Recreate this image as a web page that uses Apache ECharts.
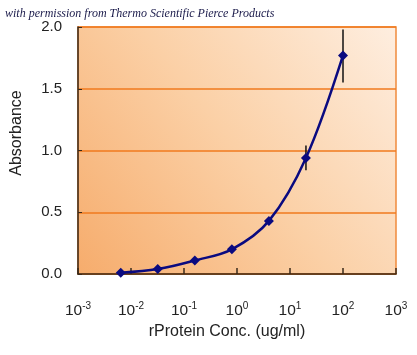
<!DOCTYPE html>
<html><head><meta charset="utf-8">
<script src="https://cdn.jsdelivr.net/npm/echarts@6/dist/echarts.min.js"></script>
<style>html,body{margin:0;padding:0;background:#fff}#c{width:417px;height:355px}</style>
</head><body><div id="c"></div>
<script>
const concentrations = [0.0064, 0.032, 0.16, 0.8, 4, 20, 100];
const absorbance = [0.01, 0.04, 0.11, 0.2, 0.43, 0.94, 1.77];
const errLow = [null, null, null, null, null, 0.84, 1.55];
const errHigh = [null, null, null, null, null, 1.04, 1.98];
const xExponents = [-3, -2, -1, 0, 1, 2, 3];
const yTicks = [0, 0.5, 1.0, 1.5, 2.0];
const titleText = 'with permission from Thermo Scientific Pierce Products';
const xName = 'rProtein Conc. (ug/ml)';
const yName = 'Absorbance';

const points = concentrations.map((c, i) => [c, absorbance[i]]);
const errData = [];
concentrations.forEach((c, i) => { if (errLow[i] != null) errData.push([c, errLow[i], errHigh[i]]); });

const chart = echarts.init(document.getElementById('c'));
chart.setOption({
  animation: false,
  grid: {
    left: 78, right: 21, top: 27, bottom: 81,
    show: true,
    borderColor: '#f08a3c', borderWidth: 1.5,
    backgroundColor: new echarts.graphic.LinearGradient(0, 1, 1, 0, [
      {offset: 0, color: '#f6ac6c'},
      {offset: 0.5, color: '#fbd0a6'},
      {offset: 1, color: '#feeee0'}
    ])
  },
  graphic: [
    {type: 'text', left: 5, top: 8, style: {text: titleText, font: 'italic 12px "Liberation Serif"', fill: '#1a1a4a'}},
    {type: 'text', x: 17, y: 133, rotation: Math.PI / 2, style: {text: yName, font: '16px "Liberation Sans"', fill: '#222', align: 'center', verticalAlign: 'middle'}},
    {type: 'text', x: 227, y: 332, style: {text: xName, font: '16px "Liberation Sans"', fill: '#222', align: 'center', verticalAlign: 'middle'}}
  ],
  xAxis: {
    type: 'log', logBase: 10, min: Math.pow(10, xExponents[0]), max: Math.pow(10, xExponents[xExponents.length - 1]),
    axisLine: {lineStyle: {color: '#3a2a1a', width: 1.5}},
    axisTick: {show: true, inside: true, length: 6, lineStyle: {color: '#3a2a1a', width: 1.5}},
    splitLine: {show: false},
    minorTick: {show: false},
    axisLabel: {
      margin: 27,
      formatter: v => '{b|10}{s|' + Math.round(Math.log10(v)) + '}',
      rich: {
        b: {fontSize: 15.5, fontFamily: 'Liberation Sans', color: '#222'},
        s: {fontSize: 10, fontFamily: 'Liberation Sans', color: '#222', verticalAlign: 'top', padding: [0, 0, 9, 0]}
      }
    }
  },
  yAxis: {
    type: 'value', min: yTicks[0], max: yTicks[yTicks.length - 1], interval: 0.5,
    axisLine: {show: true, lineStyle: {color: '#3a2a1a', width: 1.5}},
    axisTick: {show: true, inside: true, length: 4, lineStyle: {color: '#3a2a1a'}},
    splitLine: {show: true, lineStyle: {color: '#f07a1e', width: 1.5}},
    axisLabel: {margin: 16, fontSize: 15, fontFamily: 'Liberation Sans', color: '#222', formatter: v => v.toFixed(1)}
  },
  series: [
    {
      type: 'custom',
      data: errData,
      z: 3,
      renderItem: (params, api) => {
        const x = api.value(0);
        const p1 = api.coord([x, api.value(1)]);
        const p2 = api.coord([x, api.value(2)]);
        return {type: 'line', shape: {x1: p1[0], y1: p1[1], x2: p2[0], y2: p2[1]}, style: {stroke: '#111', lineWidth: 1.5}};
      }
    },
    {
      type: 'line', data: points, smooth: 0.35, z: 4,
      symbol: 'diamond', symbolSize: 10,
      lineStyle: {color: '#0a0a80', width: 2.5},
      itemStyle: {color: '#0a0a80'}
    }
  ]
});
</script></body></html>
